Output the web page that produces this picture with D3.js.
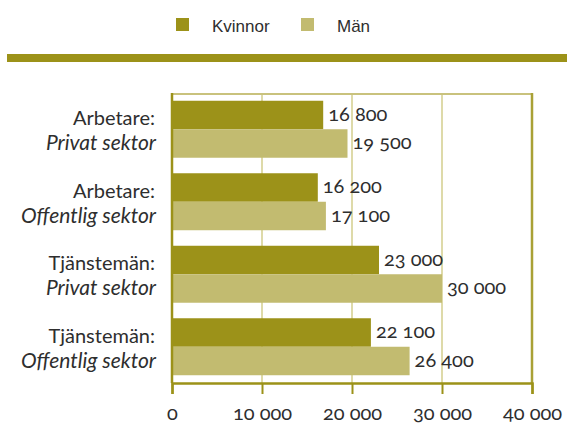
<!DOCTYPE html>
<html>
<head>
<meta charset="utf-8">
<script src="https://cdn.jsdelivr.net/npm/d3@7"></script>
<style>
  html, body { margin: 0; padding: 0; background: #fff; }
  svg { display: block; }
  .num { font-family: Lato, "Open Sans", sans-serif; font-feature-settings: "onum"; font-variant-numeric: oldstyle-nums; }
</style>
</head>
<body>
<svg id="chart" width="567" height="424"></svg>
<script>
const groups = ["Arbetare: Privat sektor", "Arbetare: Offentlig sektor", "Tjänstemän: Privat sektor", "Tjänstemän: Offentlig sektor"];
const line1 = ["Arbetare:", "Arbetare:", "Tjänstemän:", "Tjänstemän:"];
const line2 = ["Privat sektor", "Offentlig sektor", "Privat sektor", "Offentlig sektor"];
const kvinnor = [16800, 16200, 23000, 22100];
const man = [19500, 17100, 30000, 26400];
const series = ["Kvinnor", "Män"];
const tickValues = [0, 10000, 20000, 30000, 40000];

const dark = "#9c9219";
const light = "#c2bb70";
const grid = "#dedaa9";
const textCol = "#2e2e2e";

const svg = d3.select("#chart");
const fmt = d3.formatLocale({decimal: ",", thousands: " ", grouping: [3], currency: ["", ""]}).format(",d");

// legend
const legend = svg.append("g");
const legendX = [176, 301];
series.forEach((s, i) => {
  legend.append("rect")
    .attr("x", legendX[i]).attr("y", 18).attr("width", 13).attr("height", 13)
    .attr("fill", i === 0 ? dark : light);
  legend.append("text")
    .attr("x", legendX[i] + 36).attr("y", 32)
    .attr("font-family", "Liberation Sans, Arial, sans-serif")
    .attr("font-size", "17px")
    .attr("fill", textCol)
    .text(s);
});

// heavy rule under legend
svg.append("rect").attr("x", 7).attr("y", 54).attr("width", 560).attr("height", 8).attr("fill", dark);

// scales
const x = d3.scaleLinear().domain([0, 40000]).range([172, 532]);
const y = d3.scaleBand().domain(groups).range([93, 383]).paddingInner(0.214).paddingOuter(0.107);
const ySub = d3.scaleBand().domain(series).range([0, y.bandwidth()]);

// gridlines
svg.append("g")
  .selectAll("line")
  .data(tickValues.slice(1, -1))
  .join("line")
  .attr("x1", d => x(d)).attr("x2", d => x(d))
  .attr("y1", 93).attr("y2", 383)
  .attr("stroke", grid).attr("stroke-width", 2);

// bars
const rows = groups.map((g, i) => ({g, i, vals: [kvinnor[i], man[i]]}));
const gRow = svg.append("g").selectAll("g")
  .data(rows)
  .join("g")
  .attr("transform", d => `translate(0,${y(d.g)})`);

gRow.selectAll("rect")
  .data(d => d.vals.map((v, k) => ({v, s: series[k]})))
  .join("rect")
  .attr("x", x(0))
  .attr("y", d => ySub(d.s))
  .attr("width", d => x(d.v) - x(0))
  .attr("height", ySub.bandwidth())
  .attr("fill", d => d.s === "Kvinnor" ? dark : light);

gRow.selectAll("text.val")
  .data(d => d.vals.map((v, k) => ({v, s: series[k]})))
  .join("text")
  .attr("class", "val num")
  .attr("x", d => x(d.v) + 5)
  .attr("y", d => ySub(d.s) + ySub.bandwidth() / 2 + 6)
  .attr("font-size", "20px")
  .attr("fill", textCol)
  .text(d => fmt(d.v));

// category labels
gRow.append("text")
  .attr("x", 155)
  .attr("y", y.bandwidth() / 2 - 4)
  .attr("text-anchor", "end")
  .attr("font-family", "Lato, sans-serif")
  .attr("font-size", "20px")
  .attr("fill", textCol)
  .text(d => line1[d.i]);
gRow.append("text")
  .attr("x", 156)
  .attr("y", y.bandwidth() / 2 + 21)
  .attr("text-anchor", "end")
  .attr("font-family", "Lato, sans-serif")
  .attr("font-style", "italic")
  .attr("font-size", "21px")
  .attr("fill", textCol)
  .text(d => line2[d.i]);

// frame
svg.append("line").attr("x1", 171).attr("x2", 533).attr("y1", 94).attr("y2", 94)
  .attr("stroke", "#c9c27d").attr("stroke-width", 2);
svg.append("line").attr("x1", 172).attr("x2", 172).attr("y1", 93).attr("y2", 383)
  .attr("stroke", dark).attr("stroke-width", 2.5);
svg.append("line").attr("x1", 532).attr("x2", 532).attr("y1", 93).attr("y2", 383)
  .attr("stroke", "#a9a136").attr("stroke-width", 2.5);

// bottom axis
const axis = svg.append("g")
  .attr("transform", "translate(0,383)")
  .call(d3.axisBottom(x).tickValues(tickValues).tickSize(11).tickPadding(17).tickFormat(fmt));
axis.select(".domain").attr("stroke", dark).attr("stroke-width", 2.5);
axis.selectAll(".tick line").attr("stroke", dark).attr("stroke-width", 2);
axis.selectAll(".tick text")
  .attr("class", "num")
  .attr("font-size", "20px")
  .attr("fill", textCol)
  .attr("dy", "0.45em");
</script>
</body>
</html>
